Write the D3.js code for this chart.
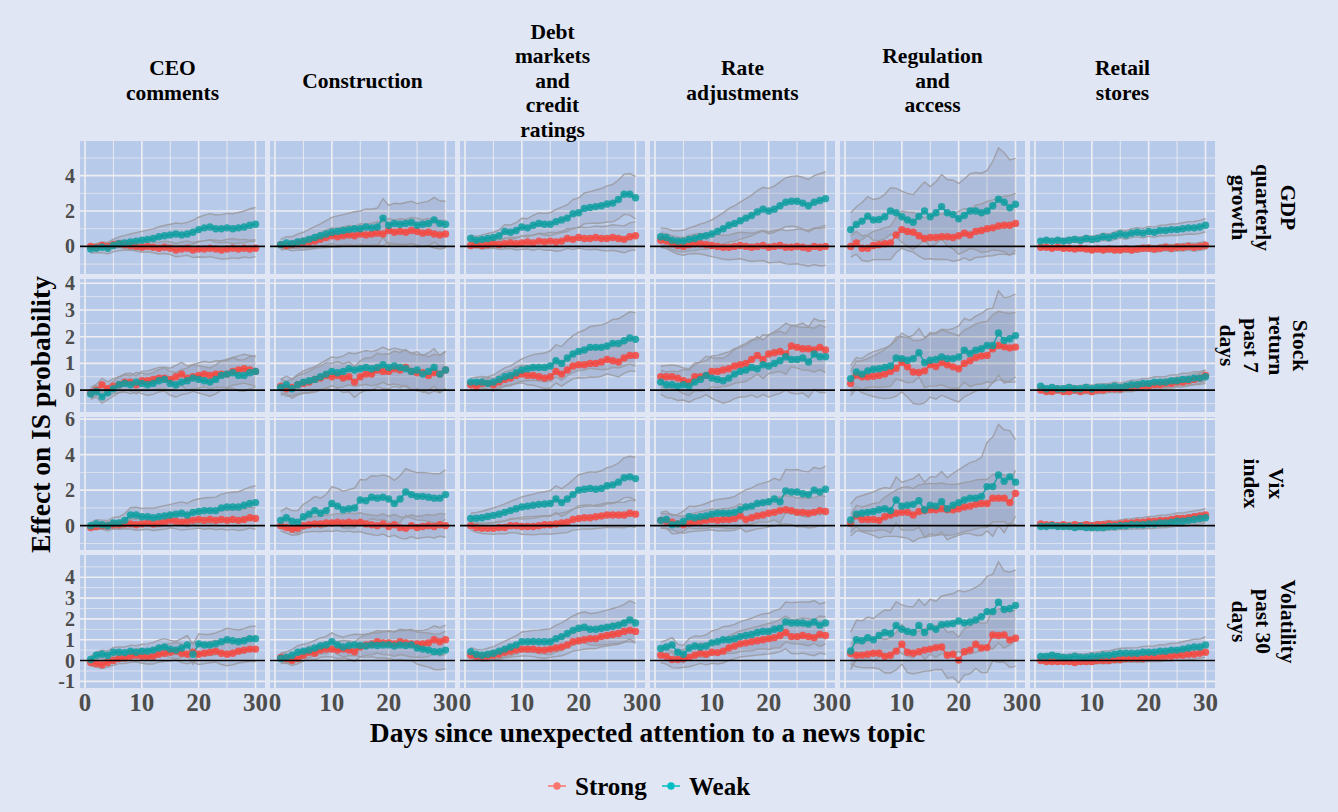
<!DOCTYPE html>
<html>
<head>
<meta charset="utf-8">
<script src="https://cdn.jsdelivr.net/npm/d3@7"></script>
<style>
  html, body { margin: 0; padding: 0; background: #E0E6F3; }
  svg { display: block; }
</style>
</head>
<body>
<svg id="chart" width="1338" height="812"></svg>
<script>
// ---- categories -------------------------------------------------------
const topics = ["CEO\ncomments", "Construction", "Debt\nmarkets\nand\ncredit\nratings",
                "Rate\nadjustments", "Regulation\nand\naccess", "Retail\nstores"];
const measures = ["GDP\nquarterly\ngrowth", "Stock\nreturn\npast 7\ndays", "Vix\nindex", "Volatility\npast 30\ndays"];
const seriesNames = ["Strong", "Weak"];
const days = [1,2,3,4,5,6,7,8,9,10,11,12,13,14,15,16,17,18,19,20,21,22,23,24,25,26,27,28,29,30];
const xTicks = [0, 10, 20, 30];
const xMinor = [5, 15, 25];

// y ticks per measure row
const gdpTicks = [0, 2, 4],          gdpMinor = [-1, 1, 3, 5];
const stockTicks = [0, 1, 2, 3, 4],  stockMinor = [-0.5, 0.5, 1.5, 2.5, 3.5];
const vixTicks = [0, 2, 4, 6],       vixMinor = [-1, 1, 3, 5];
const volTicks = [-1, 0, 1, 2, 3, 4], volMinor = [-0.5, 0.5, 1.5, 2.5, 3.5, 4.5];

// ---- GDP quarterly growth (one array per topic) ------------------------
const gdpStrong = [
  [0,-0.05,0.05,0,0.1,0.15,0.1,0.05,0,-0.05,0,-0.05,-0.1,-0.05,-0.1,-0.2,-0.15,-0.1,-0.2,-0.15,-0.15,-0.1,-0.15,-0.2,-0.15,-0.1,-0.15,-0.1,-0.15,-0.1],
  [0.1,0.05,0.1,0.15,0.2,0.25,0.3,0.4,0.5,0.6,0.55,0.6,0.65,0.6,0.7,0.65,0.7,0.75,0.7,0.9,0.8,0.85,0.8,0.9,0.85,0.75,0.8,0.7,0.65,0.7],
  [0.05,0.1,0.05,0.1,0.15,0.1,0.15,0.2,0.15,0.2,0.25,0.2,0.3,0.25,0.3,0.25,0.3,0.45,0.4,0.5,0.45,0.45,0.5,0.45,0.45,0.5,0.45,0.4,0.55,0.6],
  [0.35,0.3,0.15,0.05,0,0.1,0.15,0.15,0.1,0.05,0,-0.05,-0.05,0,0.05,0,-0.05,0,0.05,-0.05,0,0.05,-0.05,-0.05,0,-0.05,-0.1,0,-0.05,0],
  [0,0.2,-0.1,-0.1,0.05,0.1,0.15,0.2,0.65,0.95,0.85,0.8,0.6,0.45,0.5,0.5,0.55,0.55,0.5,0.6,0.75,0.65,0.85,0.9,1.0,1.05,1.15,1.2,1.2,1.3],
  [-0.05,-0.05,-0.1,-0.05,-0.1,-0.1,-0.15,-0.1,-0.15,-0.2,-0.15,-0.2,-0.15,-0.2,-0.2,-0.15,-0.2,-0.15,-0.1,-0.1,-0.15,-0.1,-0.05,-0.1,-0.05,-0.05,0,-0.05,0,0.05]
];
const gdpWeak = [
  [-0.15,-0.1,-0.05,-0.1,0.05,0.15,0.2,0.25,0.3,0.35,0.4,0.45,0.55,0.6,0.65,0.7,0.65,0.7,0.8,0.95,1.05,1.1,1.0,1.0,1.05,1.0,1.05,1.1,1.2,1.25],
  [0.1,0.2,0.15,0.25,0.3,0.4,0.5,0.6,0.7,0.8,0.85,0.9,0.95,1.0,1.0,1.1,1.05,1.1,1.6,1.2,1.3,1.25,1.3,1.35,1.2,1.25,1.3,1.5,1.3,1.25],
  [0.45,0.35,0.4,0.45,0.5,0.6,0.85,0.8,0.9,1.1,1.05,1.2,1.3,1.25,1.25,1.4,1.5,1.6,1.85,1.9,2.15,2.2,2.25,2.3,2.4,2.45,2.65,2.95,2.95,2.75],
  [0.55,0.5,0.35,0.3,0.3,0.4,0.45,0.55,0.6,0.7,0.85,1.0,1.2,1.3,1.45,1.6,1.75,1.95,2.1,2.0,2.1,2.3,2.5,2.55,2.55,2.45,2.3,2.5,2.6,2.7],
  [0.95,1.24,1.43,1.71,1.5,1.52,1.68,2.0,1.9,1.68,1.5,1.37,1.7,2.0,1.68,1.9,2.25,1.9,1.8,1.56,1.75,2.0,2.0,1.9,2.0,2.3,2.67,2.5,2.19,2.38],
  [0.3,0.35,0.3,0.35,0.3,0.35,0.4,0.35,0.45,0.4,0.45,0.55,0.5,0.6,0.7,0.65,0.75,0.8,0.75,0.85,0.8,0.9,0.9,0.95,0.95,1.0,1.05,1.05,1.1,1.2]
];
const gdpStrongCi = [
  [0.1,0.12,0.14,0.17,0.19,0.2,0.22,0.25,0.26,0.28,0.3,0.31,0.33,0.35,0.36,0.38,0.4,0.41,0.43,0.45,0.46,0.48,0.5,0.52,0.55,0.55,0.53,0.5,0.5,0.48],
  [0.15,0.18,0.21,0.25,0.28,0.31,0.35,0.38,0.42,0.45,0.48,0.5,0.53,0.55,0.58,0.6,0.62,0.64,0.66,0.68,0.7,0.71,0.72,0.74,0.75,0.76,0.78,0.79,0.8,0.8],
  [0.15,0.17,0.2,0.22,0.25,0.27,0.3,0.32,0.35,0.37,0.4,0.42,0.44,0.47,0.5,0.52,0.54,0.56,0.58,0.6,0.62,0.64,0.66,0.68,0.7,0.72,0.74,0.76,0.78,0.8],
  [0.4,0.42,0.45,0.48,0.5,0.52,0.55,0.58,0.6,0.63,0.65,0.68,0.7,0.73,0.75,0.78,0.8,0.82,0.85,0.87,0.9,0.92,0.94,0.96,0.98,1.0,1.02,1.04,1.06,1.08],
  [0.6,0.65,0.7,0.75,0.8,0.85,0.9,0.95,1.0,1.05,1.08,1.12,1.15,1.18,1.2,1.24,1.28,1.3,1.34,1.38,1.4,1.44,1.48,1.5,1.54,1.58,1.6,1.64,1.68,1.7],
  [0.08,0.08,0.09,0.1,0.1,0.11,0.11,0.12,0.12,0.13,0.13,0.14,0.14,0.15,0.15,0.16,0.16,0.17,0.17,0.18,0.18,0.19,0.19,0.2,0.2,0.21,0.21,0.22,0.22,0.23]
];
const gdpWeakCi = [
  [0.22,0.26,0.3,0.33,0.36,0.39,0.42,0.45,0.48,0.5,0.52,0.54,0.56,0.58,0.6,0.62,0.64,0.66,0.68,0.7,0.72,0.75,0.78,0.8,0.82,0.85,0.87,0.9,0.93,0.95],
  [0.3,0.35,0.4,0.45,0.5,0.56,0.62,0.68,0.76,0.84,0.88,0.9,0.93,0.96,1.0,1.02,1.05,1.07,1.1,1.12,1.14,1.16,1.18,1.2,1.22,1.24,1.26,1.27,1.28,1.3],
  [0.2,0.22,0.25,0.28,0.3,0.34,0.38,0.41,0.45,0.49,0.52,0.55,0.59,0.62,0.65,0.69,0.72,0.76,0.8,0.84,0.87,0.9,0.94,0.98,1.02,1.06,1.1,1.14,1.18,1.2],
  [0.5,0.52,0.55,0.58,0.61,0.65,0.69,0.72,0.76,0.8,0.85,0.9,0.95,1.0,1.05,1.1,1.15,1.2,1.24,1.28,1.31,1.35,1.38,1.41,1.44,1.46,1.48,1.5,1.51,1.52],
  [0.95,1.0,1.05,1.1,1.15,1.2,1.26,1.32,1.38,1.44,1.5,1.55,1.6,1.65,1.7,1.76,1.82,1.88,1.94,2.0,2.06,2.12,2.18,2.24,2.3,2.5,2.9,2.8,2.7,2.6],
  [0.1,0.1,0.11,0.12,0.13,0.14,0.15,0.16,0.17,0.18,0.19,0.2,0.21,0.22,0.23,0.24,0.25,0.26,0.27,0.28,0.29,0.3,0.31,0.32,0.33,0.34,0.35,0.36,0.37,0.38]
];

// ---- Stock return past 7 days -----------------------------------------
const stockStrong = [
  [-0.1,0,0.2,0.05,0.15,0.2,0.3,0.3,0.2,0.35,0.35,0.4,0.45,0.45,0.4,0.5,0.6,0.45,0.5,0.55,0.6,0.55,0.6,0.6,0.6,0.7,0.75,0.8,0.75,0.7],
  [0.15,0.05,0.1,0.2,0.25,0.3,0.4,0.45,0.55,0.5,0.55,0.45,0.5,0.3,0.5,0.6,0.6,0.75,0.7,0.7,0.8,0.75,0.85,0.7,0.65,0.65,0.55,0.65,0.6,0.75],
  [0.2,0.15,0.25,0.25,0.2,0.3,0.4,0.45,0.55,0.6,0.55,0.55,0.5,0.45,0.5,0.7,0.6,0.75,0.9,0.95,0.95,1.0,1.0,1.05,1.15,1.1,1.05,1.2,1.3,1.3],
  [0.5,0.5,0.5,0.45,0.35,0.3,0.5,0.5,0.55,0.7,0.7,0.75,0.8,0.9,0.95,1.0,1.15,1.3,1.15,1.35,1.4,1.45,1.35,1.65,1.6,1.55,1.55,1.5,1.6,1.5],
  [0.25,0.56,0.5,0.5,0.52,0.55,0.6,0.7,0.82,1.03,0.87,0.68,0.66,0.72,0.95,0.88,1.03,0.95,0.87,0.8,1.0,1.1,1.22,1.28,1.3,1.55,1.67,1.62,1.58,1.61],
  [0,-0.05,-0.05,0,-0.05,-0.05,0,-0.05,0,-0.05,0,0,0.05,0.05,0.05,0.1,0.1,0.15,0.15,0.15,0.2,0.2,0.25,0.25,0.3,0.3,0.35,0.4,0.45,0.55]
];
const stockWeak = [
  [-0.15,-0.05,-0.25,-0.1,0.05,0.2,0.25,0.2,0.3,0.25,0.2,0.25,0.35,0.4,0.25,0.2,0.3,0.35,0.45,0.4,0.35,0.3,0.4,0.55,0.6,0.65,0.55,0.55,0.65,0.7],
  [0.1,0.2,0.05,0.2,0.3,0.35,0.4,0.5,0.6,0.7,0.65,0.7,0.8,0.75,0.8,0.85,0.8,0.85,0.95,0.85,0.9,0.85,0.8,0.7,0.75,0.6,0.7,0.85,0.6,0.75],
  [0.3,0.3,0.3,0.25,0.3,0.4,0.5,0.55,0.65,0.75,0.8,0.85,0.85,0.85,0.9,1.1,1.0,1.2,1.35,1.45,1.5,1.6,1.6,1.6,1.65,1.75,1.75,1.85,1.95,1.9],
  [0.3,0.2,0.2,0.15,0.2,0.15,0.3,0.4,0.55,0.45,0.4,0.35,0.45,0.6,0.7,0.75,0.85,0.8,0.95,0.9,1.0,1.1,1.25,1.15,1.15,1.2,1.05,1.35,1.25,1.25],
  [0.43,0.68,0.6,0.72,0.78,0.8,0.85,0.9,1.2,1.18,1.12,1.18,1.4,1.03,1.12,1.15,1.24,1.18,1.18,1.24,1.49,1.37,1.49,1.55,1.67,1.67,2.14,1.86,1.92,2.04],
  [0.15,0.05,0.1,0.05,0.05,0.1,0.05,0.05,0.1,0.05,0.1,0.1,0.1,0.15,0.1,0.15,0.2,0.2,0.25,0.25,0.3,0.3,0.3,0.35,0.35,0.4,0.4,0.45,0.45,0.5]
];
const stockStrongCi = [
  [0.2,0.22,0.24,0.26,0.28,0.3,0.31,0.33,0.34,0.36,0.37,0.38,0.4,0.41,0.42,0.43,0.44,0.45,0.46,0.47,0.48,0.49,0.5,0.5,0.51,0.52,0.53,0.54,0.55,0.55],
  [0.25,0.28,0.31,0.34,0.37,0.4,0.42,0.45,0.47,0.5,0.52,0.54,0.56,0.58,0.6,0.61,0.62,0.63,0.64,0.65,0.66,0.66,0.67,0.67,0.68,0.68,0.69,0.69,0.7,0.7],
  [0.15,0.17,0.19,0.21,0.23,0.25,0.27,0.29,0.31,0.33,0.35,0.37,0.38,0.4,0.42,0.43,0.45,0.46,0.48,0.49,0.5,0.51,0.52,0.53,0.54,0.55,0.56,0.57,0.58,0.6],
  [0.4,0.42,0.44,0.46,0.48,0.5,0.52,0.54,0.56,0.58,0.6,0.62,0.63,0.65,0.66,0.68,0.69,0.7,0.72,0.73,0.74,0.75,0.76,0.77,0.78,0.8,0.81,0.82,0.84,0.85],
  [0.45,0.52,0.6,0.68,0.76,0.84,0.92,1.0,1.05,1.1,1.14,1.18,1.2,1.2,1.21,1.22,1.22,1.23,1.24,1.24,1.25,1.25,1.26,1.26,1.27,1.27,1.28,1.28,1.29,1.3],
  [0.08,0.08,0.09,0.09,0.1,0.1,0.11,0.11,0.12,0.12,0.13,0.13,0.14,0.14,0.15,0.15,0.16,0.16,0.17,0.17,0.17,0.18,0.18,0.18,0.19,0.19,0.19,0.2,0.2,0.2]
];
const stockWeakCi = [
  [0.2,0.22,0.24,0.26,0.28,0.3,0.32,0.34,0.36,0.38,0.4,0.41,0.42,0.44,0.45,0.46,0.47,0.48,0.5,0.51,0.52,0.53,0.54,0.55,0.56,0.57,0.58,0.59,0.6,0.6],
  [0.3,0.33,0.36,0.39,0.42,0.45,0.48,0.5,0.52,0.54,0.56,0.58,0.6,0.61,0.62,0.63,0.64,0.65,0.66,0.66,0.67,0.67,0.68,0.68,0.69,0.69,0.7,0.7,0.7,0.7],
  [0.15,0.18,0.21,0.24,0.27,0.3,0.33,0.36,0.39,0.42,0.45,0.48,0.51,0.54,0.57,0.6,0.63,0.66,0.69,0.72,0.75,0.78,0.81,0.84,0.87,0.9,0.92,0.95,0.98,1.0],
  [0.45,0.48,0.51,0.54,0.57,0.6,0.64,0.68,0.72,0.76,0.8,0.84,0.88,0.92,0.96,1.0,1.04,1.08,1.12,1.16,1.19,1.22,1.25,1.27,1.29,1.31,1.32,1.33,1.34,1.35],
  [0.5,0.54,0.58,0.62,0.66,0.7,0.73,0.76,0.79,0.82,0.85,0.88,0.91,0.94,0.97,1.0,1.04,1.08,1.12,1.16,1.2,1.24,1.28,1.32,1.36,1.4,1.58,1.6,1.58,1.55],
  [0.08,0.09,0.09,0.1,0.1,0.11,0.11,0.12,0.12,0.13,0.13,0.14,0.14,0.15,0.16,0.16,0.17,0.18,0.18,0.19,0.2,0.2,0.21,0.22,0.22,0.23,0.23,0.24,0.24,0.25]
];

// ---- Vix index --------------------------------------------------------
const vixStrong = [
  [-0.1,-0.05,0,0,0.05,0.05,0.1,0.1,0.05,0.1,0.15,0.1,0.15,0.2,0.3,0.25,0.2,0.25,0.3,0.35,0.3,0.35,0.3,0.35,0.3,0.35,0.3,0.35,0.45,0.4],
  [0,-0.1,-0.2,-0.15,0,0.05,0.1,0.1,0.15,0.15,0.2,0.15,0.2,0.15,0.2,0.1,0.05,0,0.1,-0.05,0.05,-0.1,-0.15,0,-0.1,-0.05,0,-0.05,0.05,0],
  [0,-0.1,-0.15,-0.15,-0.15,-0.1,-0.1,0,0,-0.05,-0.05,-0.05,0,0.05,0.05,0.1,0.15,0.2,0.35,0.4,0.45,0.45,0.5,0.55,0.6,0.6,0.6,0.6,0.7,0.65],
  [0.3,0.25,0.2,0.1,0.05,0.15,0.2,0.25,0.3,0.35,0.3,0.35,0.35,0.4,0.55,0.35,0.45,0.55,0.6,0.7,0.75,0.85,0.9,0.85,0.75,0.75,0.7,0.75,0.85,0.8],
  [0.13,0.55,0.35,0.35,0.35,0.3,0.5,0.6,0.7,0.75,0.75,0.6,0.8,0.85,0.9,0.9,0.95,0.9,0.9,0.95,1.05,1.1,1.2,1.25,1.25,1.55,1.55,1.55,1.3,1.82],
  [0.1,0.05,0.05,0,0.05,0,0.05,0,0.05,0,0.05,0.05,0.1,0.05,0.1,0.15,0.15,0.2,0.2,0.25,0.25,0.3,0.3,0.35,0.4,0.4,0.45,0.5,0.55,0.6]
];
const vixWeak = [
  [0,0.1,0.05,0,0.15,0.15,0.3,0.6,0.6,0.5,0.5,0.45,0.5,0.55,0.6,0.65,0.7,0.6,0.75,0.8,0.85,0.85,0.85,1.0,1.05,1.05,1.05,1.15,1.25,1.3],
  [0.3,0.45,0.25,0.2,0.5,0.65,0.85,0.7,0.85,1.25,1.1,0.9,0.95,1.0,1.45,1.4,1.6,1.55,1.6,1.5,1.25,1.5,1.9,1.75,1.65,1.65,1.6,1.55,1.55,1.75],
  [0.4,0.42,0.45,0.52,0.58,0.65,0.75,0.85,0.95,1.05,1.1,1.15,1.2,1.22,1.25,1.5,1.3,1.5,1.75,2.0,2.05,2.1,2.05,2.1,2.25,2.3,2.45,2.7,2.75,2.65],
  [0.3,0.35,0.05,0.1,0.25,0.5,0.45,0.5,0.55,0.65,0.7,0.7,0.7,0.75,0.9,1.05,1.1,1.25,1.3,1.35,1.5,1.35,1.95,1.9,1.9,1.8,1.75,2.0,1.9,2.05],
  [0.32,0.65,0.7,0.75,0.8,0.9,0.95,0.85,1.45,1.1,1.15,1.2,1.4,0.9,1.15,1.1,1.35,0.95,1.15,1.3,1.45,1.55,1.55,1.65,2.2,2.2,2.85,2.5,2.75,2.45],
  [-0.05,-0.05,0,-0.05,-0.05,-0.05,-0.1,-0.05,-0.1,-0.1,-0.1,-0.1,-0.05,-0.05,0,0,0.05,0.05,0.05,0.1,0.1,0.15,0.15,0.2,0.25,0.25,0.3,0.35,0.4,0.45]
];
const vixStrongCi = [
  [0.15,0.17,0.19,0.21,0.23,0.25,0.27,0.29,0.31,0.33,0.35,0.37,0.38,0.4,0.42,0.43,0.45,0.46,0.48,0.49,0.5,0.51,0.53,0.54,0.55,0.56,0.57,0.58,0.59,0.6],
  [0.3,0.32,0.34,0.36,0.38,0.4,0.42,0.44,0.45,0.47,0.48,0.5,0.51,0.52,0.53,0.54,0.55,0.56,0.57,0.58,0.59,0.6,0.6,0.61,0.62,0.62,0.63,0.64,0.64,0.65],
  [0.25,0.27,0.29,0.31,0.33,0.35,0.37,0.39,0.41,0.43,0.45,0.47,0.49,0.51,0.53,0.55,0.57,0.59,0.6,0.62,0.63,0.65,0.66,0.68,0.69,0.7,0.71,0.72,0.74,0.75],
  [0.4,0.42,0.44,0.46,0.48,0.5,0.52,0.54,0.56,0.58,0.6,0.62,0.64,0.66,0.68,0.7,0.71,0.73,0.74,0.76,0.77,0.78,0.79,0.8,0.81,0.82,0.83,0.84,0.85,0.85],
  [0.5,0.6,0.7,0.8,0.9,1.0,1.1,1.2,1.3,1.4,1.45,1.5,1.5,1.5,1.48,1.46,1.45,1.44,1.42,1.4,1.39,1.38,1.37,1.36,1.35,1.34,1.33,1.32,1.31,1.3],
  [0.08,0.09,0.1,0.11,0.12,0.13,0.14,0.15,0.16,0.17,0.18,0.19,0.2,0.21,0.22,0.23,0.24,0.25,0.26,0.27,0.28,0.29,0.3,0.3,0.31,0.32,0.33,0.33,0.34,0.35]
];
const vixWeakCi = [
  [0.2,0.23,0.26,0.29,0.32,0.35,0.38,0.41,0.44,0.47,0.5,0.53,0.56,0.58,0.6,0.62,0.64,0.66,0.68,0.7,0.72,0.74,0.76,0.78,0.8,0.83,0.86,0.89,0.92,0.95],
  [0.5,0.55,0.6,0.65,0.7,0.75,0.8,0.85,0.9,0.95,1.0,1.04,1.08,1.12,1.15,1.18,1.21,1.24,1.26,1.28,1.3,1.31,1.32,1.33,1.34,1.35,1.36,1.37,1.38,1.4],
  [0.3,0.33,0.36,0.39,0.42,0.45,0.48,0.51,0.54,0.57,0.6,0.63,0.66,0.69,0.72,0.75,0.78,0.81,0.84,0.87,0.9,0.93,0.96,0.99,1.02,1.05,1.08,1.12,1.16,1.2],
  [0.45,0.48,0.51,0.54,0.57,0.6,0.63,0.66,0.7,0.74,0.78,0.82,0.86,0.9,0.94,0.98,1.02,1.06,1.1,1.14,1.17,1.2,1.22,1.24,1.26,1.27,1.28,1.29,1.3,1.3],
  [0.9,0.95,1.0,1.05,1.1,1.15,1.2,1.25,1.3,1.35,1.4,1.45,1.5,1.55,1.6,1.65,1.7,1.75,1.8,1.85,1.9,2.0,2.1,2.2,2.5,2.8,2.85,2.9,2.6,2.4],
  [0.08,0.09,0.1,0.11,0.12,0.13,0.14,0.15,0.16,0.17,0.18,0.19,0.2,0.2,0.21,0.22,0.23,0.24,0.24,0.25,0.26,0.26,0.27,0.27,0.28,0.28,0.29,0.29,0.3,0.3]
];

// ---- Volatility past 30 days ------------------------------------------
const volStrong = [
  [-0.1,-0.15,-0.2,-0.1,0,0.1,0.12,0.2,0.25,0.2,0.18,0.2,0.3,0.35,0.4,0.45,0.35,0.3,0.4,0.3,0.35,0.4,0.45,0.35,0.3,0.35,0.45,0.5,0.55,0.55],
  [0.15,0.1,0,0.1,0.25,0.4,0.35,0.5,0.55,0.55,0.5,0.55,0.5,0.42,0.65,0.75,0.8,0.9,0.85,0.85,0.8,0.9,0.85,0.8,0.8,0.8,0.85,1.0,0.9,1.0],
  [0.25,0.2,0.18,0.2,0.25,0.3,0.4,0.45,0.5,0.55,0.55,0.55,0.5,0.5,0.55,0.6,0.65,0.75,0.9,0.95,1.0,1.05,1.05,1.15,1.2,1.25,1.3,1.4,1.45,1.4],
  [0.25,0.2,0.05,0.05,0.1,0.15,0.25,0.35,0.3,0.4,0.38,0.45,0.6,0.7,0.8,0.85,0.9,0.95,1.0,1.05,1.1,1.2,1.35,1.15,1.15,1.2,1.15,1.1,1.25,1.2],
  [0.34,0.25,0.26,0.3,0.35,0.35,0.2,0.25,0.45,0.78,0.4,0.35,0.42,0.5,0.55,0.62,0.65,0.25,0.3,0.02,0.42,0.5,0.78,0.6,0.62,1.23,1.2,1.23,0.99,1.07],
  [0,-0.05,-0.05,-0.05,-0.05,-0.05,-0.1,-0.05,-0.05,-0.05,0,0,0,0.05,0.05,0.1,0.1,0.1,0.1,0.15,0.15,0.15,0.2,0.2,0.25,0.25,0.3,0.3,0.35,0.4]
];
const volWeak = [
  [0.05,0.25,0.3,0.25,0.4,0.4,0.38,0.45,0.4,0.45,0.45,0.5,0.6,0.65,0.55,0.5,0.6,0.75,0.3,0.8,0.75,0.75,0.8,0.9,1.0,0.95,0.9,0.95,1.05,1.05],
  [0.1,0.15,0.25,0.4,0.45,0.5,0.6,0.7,0.75,0.9,0.75,0.65,0.72,0.75,0.72,0.7,0.75,0.72,0.75,0.75,0.7,0.75,0.72,0.75,0.6,0.55,0.5,0.42,0.42,0.5],
  [0.43,0.3,0.25,0.3,0.35,0.45,0.55,0.65,0.75,0.9,0.9,0.92,0.9,0.9,0.9,1.05,1.15,1.3,1.45,1.55,1.6,1.5,1.5,1.55,1.6,1.65,1.7,1.8,1.95,1.8],
  [0.58,0.65,0.75,0.4,0.3,0.6,0.7,0.65,0.7,0.85,0.9,1.0,1.0,1.05,1.15,1.2,1.25,1.35,1.4,1.4,1.5,1.55,1.85,1.8,1.8,1.8,1.75,1.85,1.7,1.8],
  [0.46,1.0,0.95,1.1,1.0,1.2,1.35,1.3,1.68,1.5,1.4,1.35,1.68,1.35,1.62,1.5,1.72,1.75,1.78,1.9,1.8,1.85,1.95,2.1,2.35,2.35,2.8,2.45,2.5,2.65],
  [0.2,0.2,0.25,0.2,0.15,0.15,0.2,0.15,0.15,0.2,0.2,0.25,0.25,0.3,0.35,0.35,0.35,0.35,0.4,0.4,0.4,0.45,0.45,0.5,0.5,0.55,0.6,0.65,0.65,0.75]
];
const volStrongCi = [
  [0.15,0.17,0.19,0.21,0.23,0.25,0.27,0.29,0.31,0.33,0.35,0.37,0.38,0.4,0.42,0.43,0.45,0.46,0.48,0.49,0.5,0.51,0.53,0.54,0.55,0.56,0.57,0.58,0.59,0.6],
  [0.2,0.22,0.24,0.26,0.28,0.3,0.32,0.34,0.36,0.38,0.4,0.42,0.44,0.46,0.48,0.5,0.52,0.54,0.56,0.58,0.6,0.61,0.62,0.63,0.64,0.65,0.66,0.67,0.68,0.7],
  [0.15,0.17,0.19,0.21,0.23,0.25,0.27,0.29,0.31,0.33,0.34,0.36,0.37,0.39,0.4,0.41,0.42,0.43,0.44,0.45,0.46,0.47,0.48,0.49,0.5,0.51,0.52,0.53,0.54,0.55],
  [0.35,0.37,0.39,0.41,0.43,0.45,0.47,0.49,0.51,0.53,0.55,0.57,0.59,0.61,0.63,0.65,0.67,0.69,0.71,0.73,0.75,0.77,0.79,0.81,0.83,0.84,0.86,0.87,0.89,0.9],
  [0.5,0.55,0.6,0.65,0.7,0.75,0.8,0.85,0.9,0.95,0.98,1.0,1.0,1.02,1.04,1.06,1.08,1.1,1.1,1.1,1.12,1.14,1.16,1.18,1.2,1.24,1.28,1.3,1.32,1.35],
  [0.08,0.09,0.09,0.1,0.1,0.11,0.11,0.12,0.12,0.13,0.14,0.14,0.15,0.15,0.16,0.17,0.17,0.18,0.18,0.19,0.2,0.2,0.21,0.21,0.22,0.23,0.23,0.24,0.24,0.25]
];
const volWeakCi = [
  [0.15,0.17,0.19,0.21,0.23,0.25,0.27,0.29,0.31,0.33,0.35,0.37,0.38,0.4,0.42,0.43,0.45,0.46,0.48,0.49,0.5,0.51,0.53,0.54,0.55,0.56,0.57,0.58,0.59,0.6],
  [0.25,0.27,0.29,0.31,0.33,0.35,0.37,0.39,0.41,0.43,0.45,0.47,0.49,0.51,0.53,0.55,0.57,0.6,0.62,0.65,0.67,0.7,0.72,0.75,0.77,0.8,0.82,0.85,0.87,0.9],
  [0.2,0.23,0.26,0.29,0.32,0.35,0.38,0.41,0.44,0.47,0.5,0.53,0.56,0.59,0.62,0.64,0.66,0.68,0.7,0.72,0.74,0.76,0.78,0.8,0.82,0.85,0.88,0.9,0.92,0.95],
  [0.3,0.33,0.36,0.39,0.42,0.45,0.48,0.51,0.54,0.57,0.6,0.63,0.66,0.69,0.72,0.75,0.78,0.81,0.84,0.87,0.9,0.93,0.96,0.98,1.0,1.02,1.05,1.03,1.02,1.0],
  [0.9,0.93,0.96,0.99,1.02,1.05,1.08,1.11,1.14,1.17,1.2,1.23,1.26,1.29,1.32,1.35,1.38,1.41,1.44,1.47,1.5,1.53,1.56,1.6,1.7,1.8,1.95,1.85,1.75,1.7],
  [0.1,0.11,0.12,0.13,0.14,0.15,0.16,0.17,0.18,0.19,0.2,0.21,0.22,0.23,0.24,0.25,0.26,0.27,0.28,0.29,0.3,0.31,0.32,0.33,0.34,0.35,0.36,0.37,0.38,0.4]
];

// ---- rows of the facet grid --------------------------------------------
const rows = [
  { strong: gdpStrong,   weak: gdpWeak,   strongCi: gdpStrongCi,   weakCi: gdpWeakCi,   domain: [-1.56, 5.96], ticks: gdpTicks,   minor: gdpMinor },
  { strong: stockStrong, weak: stockWeak, strongCi: stockStrongCi, weakCi: stockWeakCi, domain: [-0.82, 4.16], ticks: stockTicks, minor: stockMinor },
  { strong: vixStrong,   weak: vixWeak,   strongCi: vixStrongCi,   weakCi: vixWeakCi,   domain: [-1.37, 6.12], ticks: vixTicks,   minor: vixMinor },
  { strong: volStrong,   weak: volWeak,   strongCi: volStrongCi,   weakCi: volWeakCi,   domain: [-1.32, 5.07], ticks: volTicks,   minor: volMinor }
];

// ---- layout & style ---------------------------------------------------
const W = 1338, H = 812;
const gridLeft = 80, gridTop = 141, panelW = 185, panelH = 133, gap = 5;
const pageBg = "#E0E6F3", panelBg = "#B8CAE9";
const gridColor = "#EEEEF2";
const serif = "'Liberation Serif', 'Times New Roman', serif";
const lineColor = { Strong: "#F5483F", Weak: "#0E9EA0" };
const keyColor  = { Strong: "#F8766D", Weak: "#00BFC4" };

const svg = d3.select("#chart");
svg.append("rect").attr("width", W).attr("height", H).attr("fill", pageBg);

const x = d3.scaleLinear().domain([-0.88, 31.67]).range([0, panelW]);

rows.forEach((row, r) => {
  const y = d3.scaleLinear().domain(row.domain).range([panelH, 0]);
  topics.forEach((topic, c) => {
    const g = svg.append("g")
      .attr("transform", `translate(${gridLeft + c * (panelW + gap)},${gridTop + r * (panelH + gap)})`);
    const clipId = `clip-${r}-${c}`;
    g.append("clipPath").attr("id", clipId)
      .append("rect").attr("width", panelW).attr("height", panelH);

    g.append("rect").attr("width", panelW).attr("height", panelH).attr("fill", panelBg);

    // grid
    const grid = g.append("g");
    grid.selectAll(".hmin").data(row.minor).join("line")
      .attr("x1", 0).attr("x2", panelW)
      .attr("y1", d => y(d)).attr("y2", d => y(d))
      .attr("stroke", gridColor).attr("stroke-width", 0.8).attr("opacity", 0.85);
    grid.selectAll(".vmin").data(xMinor).join("line")
      .attr("y1", 0).attr("y2", panelH)
      .attr("x1", d => x(d)).attr("x2", d => x(d))
      .attr("stroke", gridColor).attr("stroke-width", 1).attr("opacity", 0.9);
    grid.selectAll(".hmaj").data(row.ticks).join("line")
      .attr("x1", 0).attr("x2", panelW)
      .attr("y1", d => y(d)).attr("y2", d => y(d))
      .attr("stroke", gridColor).attr("stroke-width", 1.6);
    grid.selectAll(".vmaj").data(xTicks).join("line")
      .attr("y1", 0).attr("y2", panelH)
      .attr("x1", d => x(d)).attr("x2", d => x(d))
      .attr("stroke", gridColor).attr("stroke-width", 1.6);

    const body = g.append("g").attr("clip-path", `url(#${clipId})`);
    const series = [
      { name: "Strong", v: row.strong[c], ci: row.strongCi[c] },
      { name: "Weak",   v: row.weak[c],   ci: row.weakCi[c] }
    ].map(s => ({ ...s, pts: days.map((d, i) => ({ d, v: s.v[i], lo: s.v[i] - s.ci[i], hi: s.v[i] + s.ci[i] })) }));

    // confidence ribbons
    const area = d3.area().x(p => x(p.d)).y0(p => y(p.lo)).y1(p => y(p.hi));
    series.forEach(s => {
      body.append("path").datum(s.pts).attr("d", area)
        .attr("fill", "#6F7690").attr("fill-opacity", 0.16);
    });
    series.forEach(s => {
      ["lo", "hi"].forEach(k => {
        body.append("path").datum(s.pts)
          .attr("d", d3.line().x(p => x(p.d)).y(p => y(p[k])))
          .attr("fill", "none").attr("stroke", "#9A9AA0").attr("stroke-width", 1.4).attr("opacity", 0.85);
      });
    });

    // estimates
    series.forEach(s => {
      body.append("path").datum(s.pts)
        .attr("d", d3.line().x(p => x(p.d)).y(p => y(p.v)))
        .attr("fill", "none").attr("stroke", lineColor[s.name]).attr("stroke-width", 1.5).attr("opacity", 0.9);
    });
    series.forEach(s => {
      body.selectAll(null).data(s.pts).join("circle")
        .attr("cx", p => x(p.d)).attr("cy", p => y(p.v)).attr("r", 3.7)
        .attr("fill", lineColor[s.name]).attr("opacity", 0.85);
    });

    // zero reference
    g.append("line").attr("x1", 0).attr("x2", panelW).attr("y1", y(0)).attr("y2", y(0))
      .attr("stroke", "#000").attr("stroke-width", 1.6);

    // y axis labels on the first column
    if (c === 0) {
      svg.append("g").selectAll("text").data(row.ticks).join("text")
        .attr("x", gridLeft - 5)
        .attr("y", d => gridTop + r * (panelH + gap) + y(d))
        .attr("dy", "0.35em")
        .attr("text-anchor", "end")
        .attr("font-family", serif).attr("font-weight", "bold").attr("font-size", 20)
        .attr("fill", "#4D4D4D")
        .text(d => d);
    }
    // x axis labels on the last row
    if (r === rows.length - 1) {
      svg.append("g").selectAll("text").data(xTicks).join("text")
        .attr("x", d => gridLeft + c * (panelW + gap) + x(d))
        .attr("y", gridTop + 4 * panelH + 3 * gap + 23)
        .attr("text-anchor", "middle")
        .attr("font-family", serif).attr("font-weight", "bold").attr("font-size", 25)
        .attr("fill", "#4D4D4D")
        .text(d => d);
    }
  });
});

// ---- strip labels -----------------------------------------------------
const lineGap = 24.5;
topics.forEach((t, c) => {
  const lines = t.split("\n");
  const cx = gridLeft + c * (panelW + gap) + panelW / 2;
  svg.append("text")
    .attr("text-anchor", "middle")
    .attr("font-family", serif).attr("font-weight", "bold").attr("font-size", 21.5)
    .attr("fill", "#000")
    .selectAll("tspan").data(lines).join("tspan")
    .attr("x", cx)
    .attr("y", (d, i) => 80 + (i - (lines.length - 1) / 2) * lineGap)
    .attr("dy", "0.35em")
    .text(d => d);
});
measures.forEach((m, r) => {
  const lines = m.split("\n");
  const cy = gridTop + r * (panelH + gap) + panelH / 2;
  svg.append("text")
    .attr("transform", `translate(1264,${cy}) rotate(90)`)
    .attr("text-anchor", "middle")
    .attr("font-family", serif).attr("font-weight", "bold").attr("font-size", 21.5)
    .attr("fill", "#000")
    .selectAll("tspan").data(lines).join("tspan")
    .attr("x", 0)
    .attr("y", (d, i) => (i - (lines.length - 1) / 2) * lineGap)
    .attr("dy", "0.35em")
    .text(d => d);
});

// ---- axis titles ------------------------------------------------------
svg.append("text")
  .attr("transform", `translate(40,${gridTop + (4 * panelH + 3 * gap) / 2}) rotate(-90)`)
  .attr("text-anchor", "middle").attr("dy", "0.35em")
  .attr("font-family", serif).attr("font-weight", "bold").attr("font-size", 27.5)
  .text("Effect on IS probability");
svg.append("text")
  .attr("x", gridLeft + (6 * panelW + 5 * gap) / 2).attr("y", 742)
  .attr("text-anchor", "middle")
  .attr("font-family", serif).attr("font-weight", "bold").attr("font-size", 27.5)
  .text("Days since unexpected attention to a news topic");

// ---- legend -----------------------------------------------------------
const legend = svg.append("g").attr("transform", "translate(548,786)");
const keyX = [0, 114];
seriesNames.forEach((n, i) => {
  const k = legend.append("g").attr("transform", `translate(${keyX[i]},0)`);
  k.append("line").attr("x1", 0).attr("x2", 18).attr("y1", 0).attr("y2", 0)
    .attr("stroke", keyColor[n]).attr("stroke-width", 1.5);
  k.append("circle").attr("cx", 9).attr("cy", 0).attr("r", 3.7).attr("fill", keyColor[n]);
  k.append("text").attr("x", 27).attr("y", 0).attr("dy", "0.35em")
    .attr("font-family", serif).attr("font-weight", "bold").attr("font-size", 25)
    .text(n);
});
</script>
</body>
</html>
